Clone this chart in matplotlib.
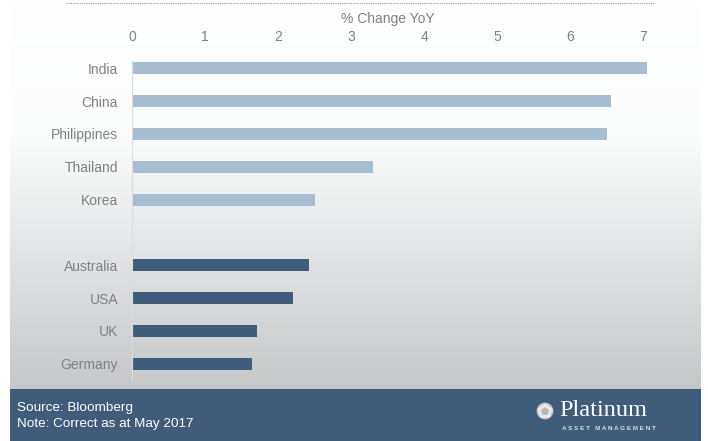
import numpy as np
import matplotlib.pyplot as plt
from matplotlib.patches import Rectangle, RegularPolygon, Circle
from matplotlib.colors import LinearSegmentedColormap

# --------------------------
# Data
# --------------------------
asia = ["India", "China", "Philippines", "Thailand", "Korea"]
asia_vals = [7.05, 6.56, 6.50, 3.30, 2.50]
developed = ["Australia", "USA", "UK", "Germany"]
developed_vals = [2.42, 2.20, 1.71, 1.64]
xticks = [0, 1, 2, 3, 4, 5, 6, 7]

light = "#a7bdd2"
dark = "#3f5d7a"
grey_txt = "#808080"

plt.rcParams["font.family"] = ["Liberation Sans", "DejaVu Sans"]

W, H = 708, 441
fig = plt.figure(figsize=(W / 100, H / 100), dpi=100)

def px(x0, y0, x1, y1):
    # pixel box (top-left origin) -> figure fraction rect
    return [x0 / W, 1 - y1 / H, (x1 - x0) / W, (y1 - y0) / H]

# --------------------------
# Background gradient panel
# --------------------------
bg = fig.add_axes(px(10, 0, 701, 389), zorder=0)
cmap = LinearSegmentedColormap.from_list(
    "bg", [(0.0, "#ffffff"), (0.35, "#fbfcfc"), (1.0, "#c6c7c9")])
grad = np.linspace(0, 1, 256).reshape(-1, 1)
bg.imshow(grad, aspect="auto", cmap=cmap, extent=[0, 1, 0, 1], origin="upper")
bg.axis("off")

# footer
ft = fig.add_axes(px(10, 389, 701, 441), zorder=0)
ft.add_patch(Rectangle((0, 0), 1, 1, color=dark))
ft.set_xlim(0, 1)
ft.set_ylim(0, 1)
ft.axis("off")

# dotted rule at the top
fig.add_artist(plt.Line2D([66 / W, 655 / W], [1 - 3 / H, 1 - 3 / H],
                          color="#9a9a9a", lw=0.8, ls=(0, (1, 1))))

# --------------------------
# Bar chart
# --------------------------
ax = fig.add_axes(px(132, 52, 643, 380), zorder=1)
ax.patch.set_alpha(0)

names = asia + [""] + developed
pos_asia = np.arange(len(asia))
pos_dev = np.arange(len(asia) + 1, len(names))
ax.barh(pos_asia, asia_vals, height=0.36, color=light, clip_on=False)
ax.barh(pos_dev, developed_vals, height=0.36, color=dark, clip_on=False)

ax.set_xlim(0, 7)
ax.set_ylim(len(names) - 0.5, -0.5)
ax.set_yticks(list(pos_asia) + list(pos_dev))
ax.set_yticklabels(asia + developed, color=grey_txt, fontsize=10)
ax.set_xticks(xticks)
ax.set_xticklabels([str(t) for t in xticks], color=grey_txt, fontsize=10)
ax.xaxis.tick_top()
ax.xaxis.set_label_position("top")
ax.set_xlabel("% Change YoY", color=grey_txt, fontsize=10, labelpad=5)
ax.tick_params(axis="x", length=0, pad=5.5)
ax.tick_params(axis="y", length=0, pad=10)
for s in ["top", "right", "bottom"]:
    ax.spines[s].set_visible(False)
ax.spines["left"].set_color("#dcdcdc")
ax.spines["left"].set_bounds(len(names) - 0.5, -0.25)

# --------------------------
# Footer text and logo
# --------------------------
fig.text(17 / W, 1 - 408 / H, "Source: Bloomberg", color="white",
         fontsize=9.7, va="center", ha="left")
fig.text(17 / W, 1 - 424 / H, "Note: Correct as at May 2017", color="white",
         fontsize=9.7, va="center", ha="left")
fig.text(559 / W, 1 - 411 / H, "Platinum", color="white",
         family=["Liberation Serif", "DejaVu Serif"], fontsize=17.5,
         va="center", ha="left")
fig.text(562 / W, 1 - 428 / H, "A S S E T   M A N A G E M E N T", color="#d8dde3",
         fontsize=4.6, va="center", ha="left", weight="bold")

logo = fig.add_axes(px(536, 402, 554, 420), zorder=2)
logo.set_xlim(-1, 1)
logo.set_ylim(-1, 1)
logo.set_aspect("equal")
logo.axis("off")
logo.add_patch(Circle((0, 0), 0.85, color="#c9ccd0"))
logo.add_patch(RegularPolygon((0, -0.05), numVertices=5, radius=0.75,
                              color="#eeeeee"))
logo.add_patch(RegularPolygon((0, -0.05), numVertices=5, radius=0.4,
                              color="#b5b9bf"))

fig.savefig("out.png", dpi=100)
